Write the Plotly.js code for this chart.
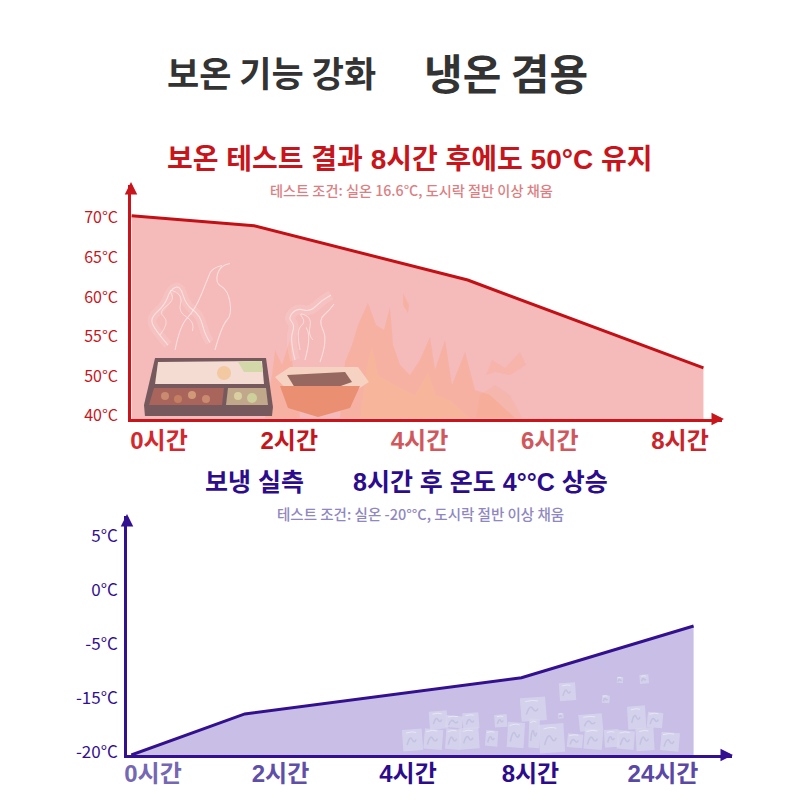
<!DOCTYPE html>
<html>
<head>
<meta charset="utf-8">
<script src="https://cdn.plot.ly/plotly-3.0.1.min.js"></script>
<style>html,body{margin:0;padding:0;background:#fff}</style>
</head>
<body>
<div id="chart" style="width:800px;height:800px"></div>
<script>
const KR = '"Noto Sans CJK KR", "Noto Sans", sans-serif';
const HEAD = '"Liberation Sans", "Noto Sans CJK KR", sans-serif';
const RED = '#c8141b';
const PURPLE = '#33108f';

// both axes are evenly spaced label slots, so values are in tick steps above the baseline
const hotHours = ['0시간', '2시간', '4시간', '6시간', '8시간'];
const hotHourColors = ['#d4282e', '#c4161c', '#d0585d', '#d0585d', '#c9242a'];
const hotTempLabels = ['40°C', '50°C', '55°C', '60°C', '65°C', '70°C'];
const hotTempTicks = [0.08, 1.08, 2.08, 3.08, 4.08, 5.08];
const hotX = [-0.21, 0.73, 2.37, 4.18];
const hotY = [5.13, 4.88, 3.51, 1.29];

const coldHours = ['0시간', '2시간', '4시간', '8시간', '24시간'];
const coldHourColors = ['#7567b3', '#5f4fa9', '#2c0c8d', '#2c0c8d', '#5a48a6'];
const coldTempLabels = ['-20°C', '-15°C', '-5°C', '0°C', '5°C'];
const coldTempTicks = [0.06, 1.06, 2.06, 3.06, 4.06];
const coldX = [-0.17, 0.72, 2.89, 4.24];
const coldY = [0, 0.76, 1.43, 2.39];

const P = (x, y) => [x / 800, 1 - y / 800];
const pt = p => { const q = P(p[0], p[1]); return q[0].toFixed(4) + ',' + q[1].toFixed(4); };

function poly(points, color) {
    return {
        type: 'path', xref: 'paper', yref: 'paper',
        path: points.map((p, i) => (i ? 'L' : 'M') + pt(p)).join(' ') + ' Z',
        fillcolor: color, line: {width: 0}, layer: 'above'
    };
}

// smooth stroke through the midpoints of the given points
function wisp(points, color, width) {
    let d = 'M' + pt(points[0]);
    for (let i = 1; i < points.length - 1; i++) {
        const mid = [(points[i][0] + points[i + 1][0]) / 2, (points[i][1] + points[i + 1][1]) / 2];
        d += ' Q' + pt(points[i]) + ' ' + pt(mid);
    }
    return {
        type: 'path', xref: 'paper', yref: 'paper', path: d,
        line: {color: color, width: width}, layer: 'above'
    };
}

function dot(x, y, r, color) {
    const a = P(x - r, y - r), b = P(x + r, y + r);
    return {
        type: 'circle', xref: 'paper', yref: 'paper', x0: a[0], y0: a[1], x1: b[0], y1: b[1],
        fillcolor: color, line: {width: 0}, layer: 'above'
    };
}

// flames, lunch boxes, steam and ice from the photo background
const FLAME = 'rgba(250,160,115,0.32)';
const CORE = 'rgba(252,195,135,0.26)';
const STEAM = 'rgba(255,245,245,0.6)';
const decor = [
    poly([[340,418],[345,362],[352,345],[358,325],[368,303],[376,325],[384,330],[390,307],[393,345],[400,365],[410,375],[420,360],[430,337],[435,370],[445,340],[452,385],[465,352],[475,390],[490,395],[515,418]], FLAME),
    poly([[360,418],[366,370],[372,345],[378,375],[395,385],[415,395],[428,372],[436,395],[450,400],[470,418]], CORE),
    poly([[403,293],[409,305],[408,313],[403,305]], FLAME),
    poly([[486,375],[492,360],[505,368],[520,352],[526,365],[510,375],[495,372]], 'rgba(250,160,115,0.22)'),
    poly([[476,418],[480,395],[495,385],[510,395],[522,418]], 'rgba(250,160,115,0.16)'),
    poly([[265,418],[272,375],[275,350],[282,365],[290,340],[293,370],[300,418]], FLAME),

    poly([[155,358],[266,358],[273,407],[272,416],[145,416],[144,405]], '#75595d'),
    poly([[158,362],[262,361],[264,384],[155,384]], '#f4dcd2'),
    poly([[238,362],[261,361],[263,372],[244,372]], '#d3d8a8'),
    dot(224, 373, 7, '#f2c9a0'),
    poly([[154,388],[224,388],[222,405],[149,405]], '#a9645c'),
    poly([[228,388],[266,388],[268,405],[226,405]], '#c2a88a'),
    dot(165, 396, 4, '#c98a70'), dot(178, 399, 4, '#c47f62'), dot(192, 395, 4, '#d09a78'), dot(206, 399, 4, '#c98a70'),
    dot(238, 396, 4, '#d8d0a0'), dot(252, 398, 5, '#cdd09a'),

    poly([[275,377],[290,367],[358,367],[369,382],[352,393],[290,393]], '#f6d2c2'),
    poly([[287,375],[345,372],[352,382],[335,388],[295,388]], '#96685f'),
    poly([[280,386],[360,386],[350,408],[318,417],[288,408]], '#ea8f72'),

    wisp([[168,345],[155,330],[150,318],[165,305],[170,290],[180,285],[186,305],[200,315],[205,335],[215,350]], 'rgba(255,238,238,0.14)', 9),
    wisp([[168,345],[155,330],[150,318],[165,305],[170,290],[180,285],[186,305],[200,315],[205,335],[215,350]], STEAM, 1.1),
    wisp([[160,335],[170,322],[158,312],[175,300],[168,288],[183,296],[178,312],[195,322],[190,340]], STEAM, 0.9),
    wisp([[175,350],[180,325],[195,310],[208,278],[212,268],[232,263]], STEAM, 1.1),
    wisp([[215,350],[222,325],[232,315],[228,290],[215,283],[220,265],[240,262]], STEAM, 1.1),
    wisp([[295,360],[290,340],[295,325],[288,318],[297,308],[310,312],[322,300],[340,290]], 'rgba(255,238,238,0.14)', 10),
    wisp([[295,360],[290,340],[295,325],[288,318],[297,308],[310,312],[322,300],[340,290]], STEAM, 1.1),
    wisp([[300,350],[296,330],[306,322],[298,312],[312,318],[308,335],[318,345]], STEAM, 0.9),
    wisp([[320,362],[328,340],[318,320],[330,310],[338,298]], STEAM, 1.1),
    wisp([[305,360],[312,335],[300,320]], STEAM, 1.1)
];

// [left, top, width, height] of the ice cubes, in zoomed crop pixels
const iceCubes = [
    [25,240,55,60],[85,235,60,65],[105,185,50,50],[150,195,55,40],[205,190,45,45],[150,235,50,65],[195,235,55,60],
    [270,240,40,50],[300,195,35,35],[335,215,55,80],[380,145,70,65],[400,205,35,90],[435,225,70,80],
    [515,250,50,45],[555,195,65,45],[565,235,60,65],[630,240,40,50],[665,240,55,60],[700,170,50,65],
    [755,185,50,50],[725,235,50,65],[795,245,60,60],[495,100,45,50],[620,135,25,25],[490,190,15,15],[665,80,20,20],[735,75,25,25]
];
iceCubes.forEach((c, i) => {
    const x = 395 + c[0] / 3, y = 650 + c[1] / 3, w = c[2] / 3, h = c[3] / 3;
    const t = (i % 2 ? 1 : -1) * w * 0.08;
    decor.push(poly([[x + t, y], [x + w, y + t], [x + w - t, y + h], [x, y + h - t]], 'rgba(216,216,238,0.72)'));
    decor.push(wisp([[x + w * 0.2, y + h * 0.75], [x + w * 0.35, y + h * 0.25], [x + w * 0.6, y + h * 0.7], [x + w * 0.8, y + h * 0.25]], 'rgba(170,170,208,0.4)', 1.5));
    decor.push(wisp([[x + w * 0.15, y + h * 0.15], [x + w * 0.5, y + h * 0.05], [x + w * 0.9, y + h * 0.2]], 'rgba(240,240,250,0.7)', 1));
});

function text(str, x, y, size, color, weight, family) {
    const q = P(x, y);
    return {
        text: str, xref: 'paper', yref: 'paper', x: q[0], y: q[1],
        xanchor: 'center', yanchor: 'middle', showarrow: false,
        font: {family: family || KR, size: size, color: color, weight: weight}
    };
}

function arrow(x, y, ax, ay, color) {
    const q = P(x, y);
    return {
        text: '', xref: 'paper', yref: 'paper', x: q[0], y: q[1], axref: 'pixel', ayref: 'pixel',
        ax: ax, ay: ay, showarrow: true, arrowhead: 2, arrowsize: 1, arrowwidth: 2.5, arrowcolor: color
    };
}

function xAxis(labels, colors, vals, left, right, origin, step, anchor, color, standoff) {
    return {
        domain: [left / 800, right / 800],
        range: [(left - origin) / step, (right - origin) / step],
        tickmode: 'array', tickvals: vals,
        ticktext: labels.map((t, i) => '<span style="color:' + colors[i] + '">' + t + '</span>'),
        tickfont: {family: HEAD, size: 24, weight: 700, color: color},
        ticks: '', showgrid: false, zeroline: false, showline: true,
        linecolor: color, linewidth: 2.5, anchor: anchor, ticklabelstandoff: standoff
    };
}

function yAxis(labels, vals, bottom, top, step, anchor, color, standoff, size) {
    return {
        domain: [1 - bottom / 800, 1 - top / 800],
        range: [0, (bottom - top) / step],
        tickmode: 'array', tickvals: vals, ticktext: labels,
        tickfont: {family: KR, size: size, color: color},
        ticks: '', showgrid: false, zeroline: false, showline: true,
        linecolor: color, linewidth: 2.5, anchor: anchor, ticklabelstandoff: standoff
    };
}

const traces = [
    {
        x: hotX, y: hotY, xaxis: 'x', yaxis: 'y', type: 'scatter', mode: 'lines',
        line: {color: '#c40f15', width: 3}, fill: 'tozeroy', fillcolor: 'rgba(232,90,90,0.42)', hoverinfo: 'skip'
    },
    {
        x: coldX, y: coldY, xaxis: 'x2', yaxis: 'y2', type: 'scatter', mode: 'lines',
        line: {color: PURPLE, width: 3}, fill: 'tozeroy', fillcolor: 'rgba(100,70,180,0.35)', hoverinfo: 'skip'
    }
];

const layout = {
    width: 800, height: 800,
    margin: {l: 0, r: 0, t: 0, b: 0},
    paper_bgcolor: '#ffffff', plot_bgcolor: 'rgba(0,0,0,0)',
    showlegend: false,
    xaxis: xAxis(hotHours, hotHourColors, [0, 1, 2, 3, 4], 131, 722, 159, 130.25, 'y', RED, -2),
    yaxis: yAxis(hotTempLabels, hotTempTicks, 419, 185, 39.6, 'x', RED, 7, 16),
    xaxis2: xAxis(coldHours, coldHourColors, [0, 1, 2, 2.96, 4], 127, 732, 153, 127.5, 'y2', PURPLE, -5),
    yaxis2: yAxis(coldTempLabels, coldTempTicks, 755, 516, 54, 'x2', PURPLE, 3, 17),
    shapes: decor,
    annotations: [
        text('보온 기능 강화', 271, 72, 35, '#333333', 700),
        text('냉온 겸용', 506, 72, 42, '#333333', 700),
        text('보온 테스트 결과 8시간 후에도 50°C 유지', 409, 160, 28, RED, 700, HEAD),
        text('테스트 조건: 실온 16.6°C, 도시락 절반 이상 채움', 411, 190, 14.2, '#dc7f83', 500),
        text('보냉 실측', 254, 482, 25, '#2c0c8d', 700, HEAD),
        text('8시간 후 온도 4°°C 상승', 480, 482, 25, '#2c0c8d', 700, HEAD),
        text('테스트 조건: 실온 -20°°C, 도시락 절반 이상 채움', 420, 513, 14.5, '#8f88c0', 500),
        arrow(131, 182, 0, 12, RED),
        arrow(724, 419, -12, 0, RED),
        arrow(127, 514, 0, 12, PURPLE),
        arrow(733, 755, -12, 0, PURPLE)
    ]
};

Plotly.newPlot('chart', traces, layout, {displayModeBar: false, responsive: false});
</script>
</body>
</html>
